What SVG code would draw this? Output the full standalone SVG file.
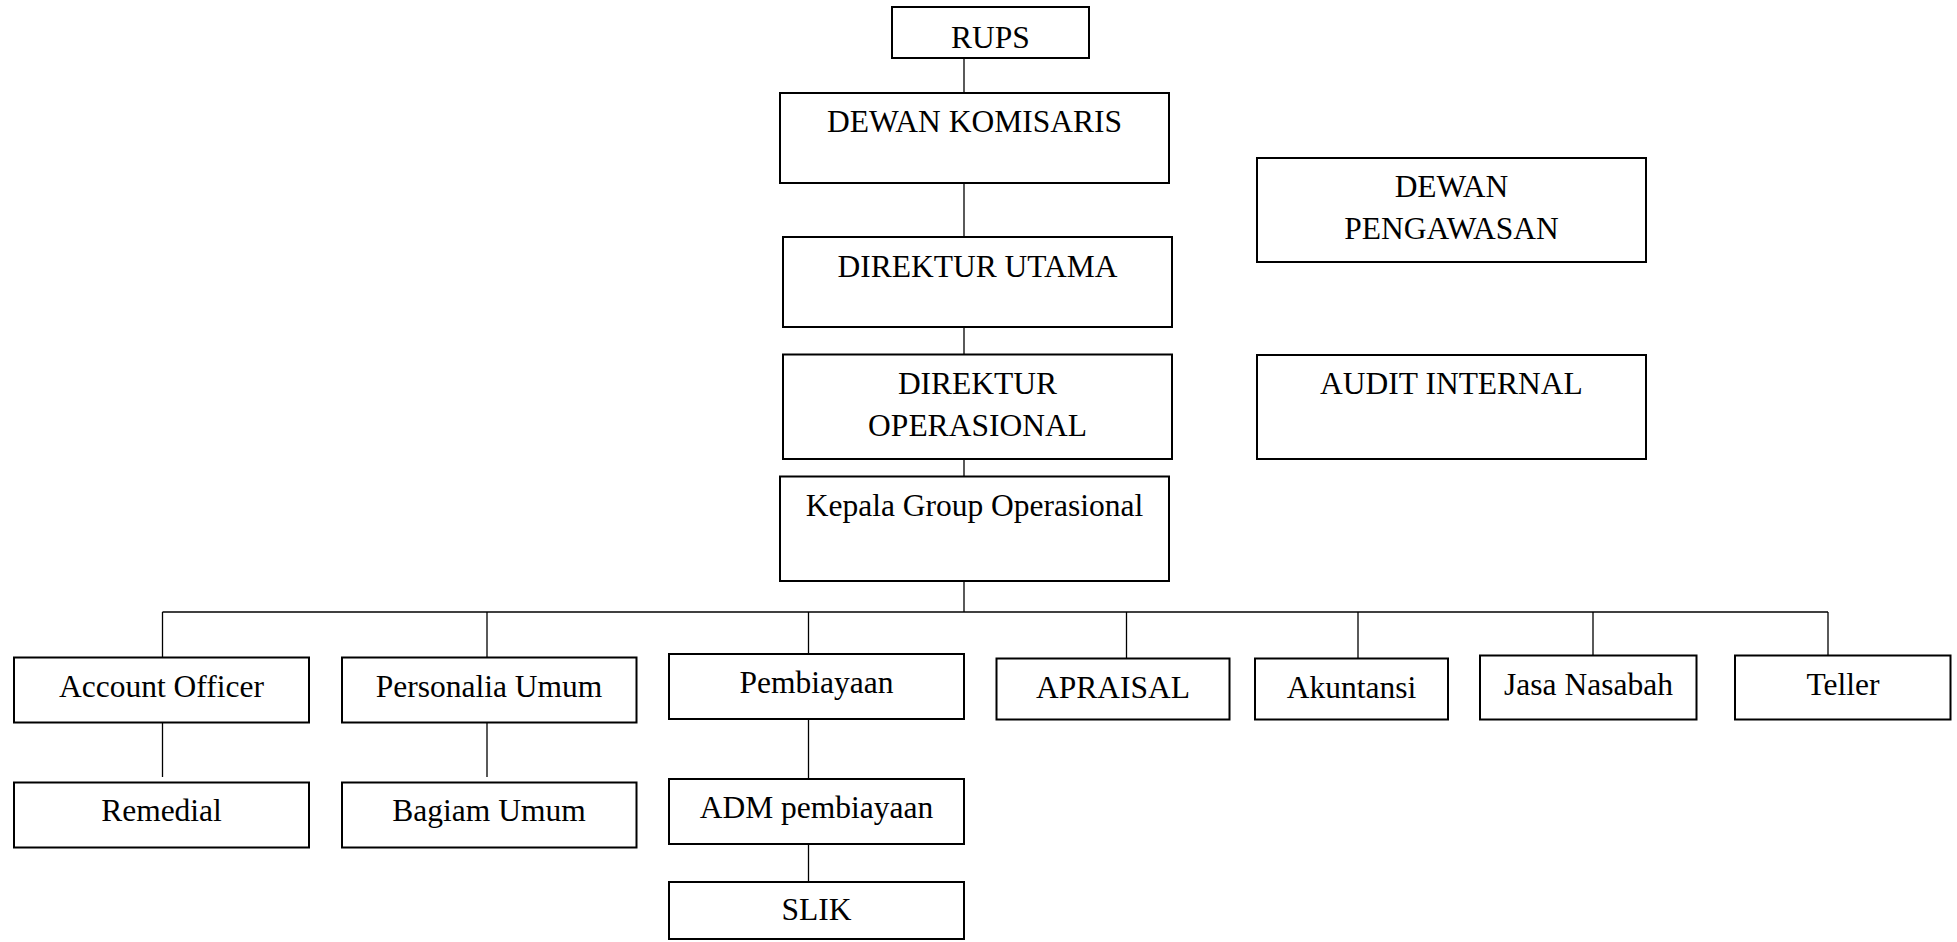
<svg xmlns="http://www.w3.org/2000/svg" width="1957" height="942" viewBox="0 0 1957 942">
<style>
.box{fill:#fff;stroke:#000;stroke-width:2}
.ln{stroke:#000;stroke-width:1.3;fill:none}
text{font-family:"Liberation Serif","Times New Roman",serif;font-size:31.5px;fill:#000;text-anchor:middle}
</style>
<rect width="1957" height="942" fill="#fff"/>
<g id="connectors">
<line class="ln" x1="964" y1="58" x2="964" y2="93"/>
<line class="ln" x1="964" y1="183" x2="964" y2="237"/>
<line class="ln" x1="964" y1="327" x2="964" y2="354"/>
<line class="ln" x1="964" y1="459" x2="964" y2="476"/>
<line class="ln" x1="964" y1="581" x2="964" y2="612"/>
<line class="ln" x1="162.5" y1="612" x2="1828" y2="612"/>
<line class="ln" x1="162.5" y1="612" x2="162.5" y2="657"/>
<line class="ln" x1="487" y1="612" x2="487" y2="657"/>
<line class="ln" x1="808.5" y1="612" x2="808.5" y2="654"/>
<line class="ln" x1="1126.5" y1="612" x2="1126.5" y2="658"/>
<line class="ln" x1="1358" y1="612" x2="1358" y2="658"/>
<line class="ln" x1="1593" y1="612" x2="1593" y2="658"/>
<line class="ln" x1="1828" y1="612" x2="1828" y2="655"/>
<line class="ln" x1="162.5" y1="723" x2="162.5" y2="777"/>
<line class="ln" x1="487" y1="723" x2="487" y2="777"/>
<line class="ln" x1="808.5" y1="719" x2="808.5" y2="779"/>
<line class="ln" x1="808.5" y1="844" x2="808.5" y2="882"/>
</g>
<g id="rups"><rect class="box" x="892" y="7" width="197" height="51"/><text x="990.5" y="48">RUPS</text></g>
<g id="dewan-komisaris"><rect class="box" x="780" y="93" width="389" height="90"/><text x="974.5" y="131.5">DEWAN KOMISARIS</text></g>
<g id="direktur-utama"><rect class="box" x="783" y="237" width="389" height="90"/><text x="977.5" y="276.5">DIREKTUR UTAMA</text></g>
<g id="direktur-operasional"><rect class="box" x="783" y="354.5" width="389" height="104.5"/><text x="977.5" y="394">DIREKTUR</text><text x="977.5" y="435.5">OPERASIONAL</text></g>
<g id="kepala-group"><rect class="box" x="780" y="476.5" width="389" height="104.5"/><text x="974.5" y="516">Kepala Group Operasional</text></g>
<g id="dewan-pengawasan"><rect class="box" x="1257" y="158" width="389" height="104"/><text x="1451.5" y="197">DEWAN</text><text x="1451.5" y="239">PENGAWASAN</text></g>
<g id="audit-internal"><rect class="box" x="1257" y="355" width="389" height="104"/><text x="1451.5" y="394">AUDIT INTERNAL</text></g>
<g id="account-officer"><rect class="box" x="14" y="657.5" width="295" height="65"/><text x="161.5" y="697">Account Officer</text></g>
<g id="personalia-umum"><rect class="box" x="342" y="657.5" width="294.5" height="65"/><text x="489" y="697">Personalia Umum</text></g>
<g id="pembiayaan"><rect class="box" x="669" y="654" width="295" height="65"/><text x="816.5" y="693">Pembiayaan</text></g>
<g id="apraisal"><rect class="box" x="996.5" y="658.5" width="233" height="61"/><text x="1113" y="698">APRAISAL</text></g>
<g id="akuntansi"><rect class="box" x="1255" y="658.5" width="193" height="61"/><text x="1351.5" y="698">Akuntansi</text></g>
<g id="jasa-nasabah"><rect class="box" x="1480" y="655.5" width="216.5" height="64"/><text x="1588.5" y="695">Jasa Nasabah</text></g>
<g id="teller"><rect class="box" x="1735" y="655.5" width="215.5" height="64"/><text x="1843" y="695">Teller</text></g>
<g id="remedial"><rect class="box" x="14" y="782.5" width="295" height="65"/><text x="161.5" y="821">Remedial</text></g>
<g id="bagiam-umum"><rect class="box" x="342" y="782.5" width="294.5" height="65"/><text x="489" y="821">Bagiam Umum</text></g>
<g id="adm-pembiayaan"><rect class="box" x="669" y="779" width="295" height="65"/><text x="816.5" y="818">ADM pembiayaan</text></g>
<g id="slik"><rect class="box" x="669" y="882" width="295" height="57"/><text x="816.5" y="920">SLIK</text></g>
</svg>
